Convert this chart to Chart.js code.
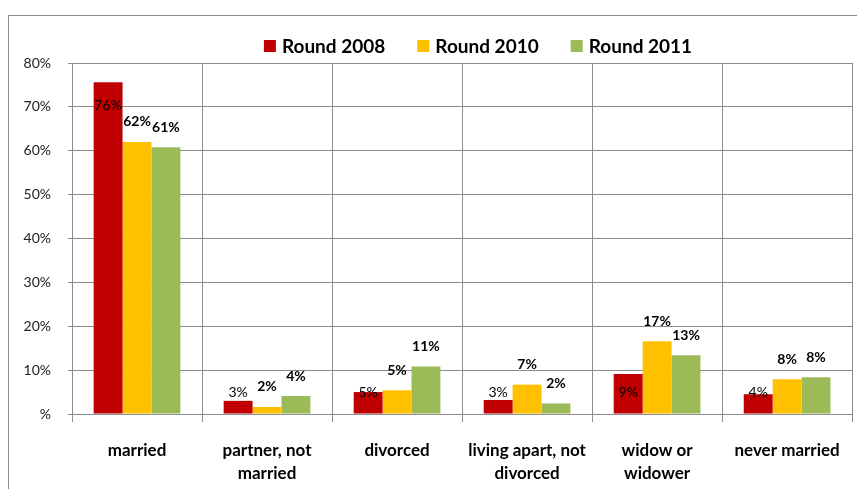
<!DOCTYPE html>
<html>
<head>
<meta charset="utf-8">
<script src="https://cdn.jsdelivr.net/npm/chart.js@4/dist/chart.umd.min.js"></script>
<style>
  html,body{margin:0;padding:0;background:#fff;}
  #wrap{width:857px;height:489px;position:relative;}
</style>
</head>
<body>
<div id="wrap"><canvas id="c" width="857" height="489"></canvas></div>
<script>
const categories = [["married"], ["partner, not", "married"], ["divorced"], ["living apart, not", "divorced"], ["widow or", "widower"], ["never married"]];
const seriesNames = ["Round 2008", "Round 2010", "Round 2011"];
const round2008 = [75.6, 3.0, 5.0, 3.2, 9.1, 4.5];
const round2010 = [62.0, 1.6, 5.4, 6.7, 16.6, 7.9];
const round2011 = [60.8, 4.1, 10.8, 2.4, 13.4, 8.4];
const labels2008 = ["76%", "3%", "5%", "3%", "9%", "4%"];
const labels2010 = ["62%", "2%", "5%", "7%", "17%", "8%"];
const labels2011 = ["61%", "4%", "11%", "2%", "13%", "8%"];
const yTicks = [0, 10, 20, 30, 40, 50, 60, 70, 80];

const colors = ["#C00000", "#FFC000", "#9BBB59"];
const FONT = "Lato, 'Open Sans', sans-serif";
const GRID = "#8c8c8c";

const frame = {
  id: 'frame',
  beforeDraw(chart) {
    const ctx = chart.ctx;
    ctx.save();
    ctx.fillStyle = '#fff';
    ctx.fillRect(0, 0, chart.width, chart.height);
    ctx.strokeStyle = GRID;
    ctx.lineWidth = 1;
    ctx.strokeRect(8.5, 15.5, 900, 520);
    ctx.restore();
  }
};

const legendPlugin = {
  id: 'customLegend',
  afterDraw(chart) {
    const ctx = chart.ctx;
    ctx.save();
    ctx.font = "bold 19px " + FONT;
    ctx.textBaseline = 'middle';
    const box = 12, gap = 6, between = 32;
    const widths = seriesNames.map(n => ctx.measureText(n).width);
    const total = widths.reduce((a, b) => a + b, 0) + seriesNames.length * (box + gap) + between * (seriesNames.length - 1);
    let x = 478 - total / 2;
    const cy = 46;
    seriesNames.forEach((n, i) => {
      ctx.fillStyle = colors[i];
      ctx.fillRect(x, cy - box / 2, box, box);
      x += box + gap;
      ctx.fillStyle = '#000';
      ctx.fillText(n, x, cy + 1);
      x += widths[i] + between;
    });
    ctx.restore();
  }
};

const labelPlugin = {
  id: 'valueLabels',
  afterDatasetsDraw(chart) {
    const ctx = chart.ctx;
    const yScale = chart.scales.y;
    const sets = [labels2008, labels2010, labels2011];
    ctx.save();
    ctx.textAlign = 'center';
    ctx.textBaseline = 'middle';
    ctx.fillStyle = '#000';
    chart.data.datasets.forEach((ds, di) => {
      const meta = chart.getDatasetMeta(di);
      meta.data.forEach((bar, i) => {
        const v = ds.data[i];
        let y;
        if (di === 0) {
          ctx.font = "14px " + FONT;
          y = v > 50 ? yScale.getPixelForValue(v - 5.2) : yScale.getPixelForValue(4.8);
        } else {
          ctx.font = "bold 14px " + FONT;
          y = bar.y - 20;
        }
        ctx.fillText(sets[di][i], bar.x, y);
      });
    });
    ctx.restore();
  }
};

new Chart(document.getElementById('c'), {
  type: 'bar',
  data: {
    labels: categories,
    datasets: [
      { label: seriesNames[0], data: round2008, backgroundColor: colors[0] },
      { label: seriesNames[1], data: round2010, backgroundColor: colors[1] },
      { label: seriesNames[2], data: round2011, backgroundColor: colors[2] }
    ]
  },
  options: {
    responsive: false,
    animation: false,
    devicePixelRatio: 1,
    layout: { padding: { top: 63, left: 8, right: 3, bottom: 0 } },
    plugins: { legend: { display: false }, tooltip: { enabled: false } },
    datasets: { bar: { categoryPercentage: 0.667, barPercentage: 1.0 } },
    scales: {
      x: {
        grid: { color: GRID, lineWidth: 1, tickLength: 8, offset: true, drawOnChartArea: true },
        border: { color: GRID, width: 1 },
        ticks: { color: '#000', font: { family: FONT, size: 17, weight: 'bold', lineHeight: 1.35 }, padding: 17, maxRotation: 0, autoSkip: false },
        afterFit(s) { s.height = 75; }
      },
      y: {
        min: 0, max: 80,
        afterBuildTicks(s) { s.ticks = yTicks.map(v => ({ value: v })); },
        grid: { color: GRID, lineWidth: 1, tickLength: 4 },
        border: { color: GRID, width: 1 },
        ticks: {
          color: '#222',
          font: { family: FONT, size: 14 },
          padding: 17,
          callback: v => v === 0 ? '%' : v + '%'
        },
        afterFit(s) { s.width = 64; }
      }
    }
  },
  plugins: [frame, labelPlugin, legendPlugin]
});
</script>
</body>
</html>
